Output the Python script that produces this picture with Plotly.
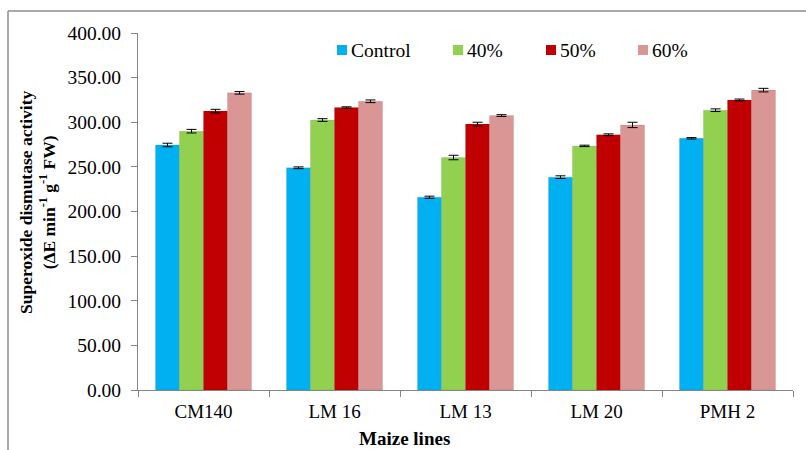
import plotly.graph_objects as go

# Superoxide dismutase activity of maize lines under different treatments
lines = ["CM140", "LM 16", "LM 13", "LM 20", "PMH 2"]
series_names = ["Control", "40%", "50%", "60%"]
control = [274.5, 249.0, 216.0, 238.5, 282.0]
pct40 = [290.0, 302.5, 260.5, 273.5, 313.5]
pct50 = [312.5, 316.5, 298.0, 286.0, 325.0]
pct60 = [333.0, 323.5, 307.5, 297.0, 336.0]
err_control = [2.0, 1.0, 1.2, 1.5, 0.8]
err_40 = [2.0, 1.5, 2.5, 0.8, 1.5]
err_50 = [2.0, 0.8, 2.0, 1.0, 1.0]
err_60 = [1.5, 1.5, 1.0, 3.0, 2.0]
y_ticks = [0, 50, 100, 150, 200, 250, 300, 350, 400]

values = [control, pct40, pct50, pct60]
errors = [err_control, err_40, err_50, err_60]
colors = ["#00B0F0", "#92D050", "#C00000", "#D99694"]

FONT = "Liberation Serif, Times New Roman, serif"

fig = go.Figure()
for name, vals, errs, col in zip(series_names, values, errors, colors):
    fig.add_trace(go.Bar(
        name=name,
        x=lines,
        y=vals,
        marker=dict(color=col, line=dict(color="rgba(0,0,0,0.08)", width=1)),
        error_y=dict(type="data", array=errs, visible=True,
                     color="black", thickness=1, width=5),
        showlegend=False,
    ))

# plot area in pixels (806 x 450 page)
L, R, T, B = 138, 793, 33, 390
W, H = R - L, B - T


def px_x(p):
    return (p - L) / W


def px_y(p):
    return (B - p) / H


fig.update_layout(
    width=806,
    height=450,
    margin=dict(l=L, r=806 - R, t=T, b=450 - B),
    paper_bgcolor="white",
    plot_bgcolor="white",
    barmode="group",
    bargap=0.267,
    bargroupgap=0,
    font=dict(family=FONT, size=19, color="black"),
    showlegend=False,
    xaxis=dict(
        range=[-0.5, 4.5],
        showline=True,
        linecolor="#868686",
        linewidth=1,
        ticks="outside",
        tickson="boundaries",
        ticklen=6,
        tickcolor="#868686",
        tickfont=dict(family=FONT, size=19, color="black"),
        ticklabelstandoff=4,
        showgrid=False,
        zeroline=False,
    ),
    yaxis=dict(
        range=[0, 400],
        tickvals=y_ticks,
        tickformat=".2f",
        showline=True,
        linecolor="#868686",
        linewidth=1,
        ticks="outside",
        ticklen=6,
        tickcolor="#868686",
        tickfont=dict(family=FONT, size=19.5, color="black"),
        ticklabelstandoff=6,
        showgrid=False,
        zeroline=False,
    ),
)

# legend row: colour key squares with series names
legend_x = [337, 453, 546, 638]
legend_y = 50
for name, col, lx in zip(series_names, colors, legend_x):
    fig.add_shape(type="rect", xref="paper", yref="paper",
                  x0=px_x(lx), x1=px_x(lx + 10),
                  y0=px_y(legend_y + 5), y1=px_y(legend_y - 5),
                  fillcolor=col, line=dict(width=0))
    fig.add_annotation(xref="paper", yref="paper",
                       x=px_x(lx + 12), y=px_y(legend_y),
                       text=name, showarrow=False,
                       xanchor="left", yanchor="middle",
                       font=dict(family=FONT, size=19.5, color="black"))

# axis titles
fig.add_annotation(
    xref="paper", yref="paper",
    x=px_x(404), y=px_y(438),
    text="<b>Maize lines</b>",
    showarrow=False,
    font=dict(family=FONT, size=19, color="black"),
    xanchor="center", yanchor="middle",
)
fig.add_annotation(
    xref="paper", yref="paper",
    x=px_x(37), y=px_y(202),
    text="<b>Superoxide dismutase activity<br>(ΔE min<sup>-1</sup> g<sup>-1</sup> FW)</b>",
    textangle=-90,
    showarrow=False,
    font=dict(family=FONT, size=17.5, color="black"),
    xanchor="center", yanchor="middle",
)

# chart frame (left and top edges)
frame = dict(color="#8C8C8C", width=1.5)
fig.add_shape(type="line", xref="paper", yref="paper",
              x0=px_x(8), x1=px_x(8), y0=px_y(11), y1=px_y(452), line=frame)
fig.add_shape(type="line", xref="paper", yref="paper",
              x0=px_x(8), x1=px_x(808), y0=px_y(11), y1=px_y(11), line=frame)

fig.write_html("out.html")
